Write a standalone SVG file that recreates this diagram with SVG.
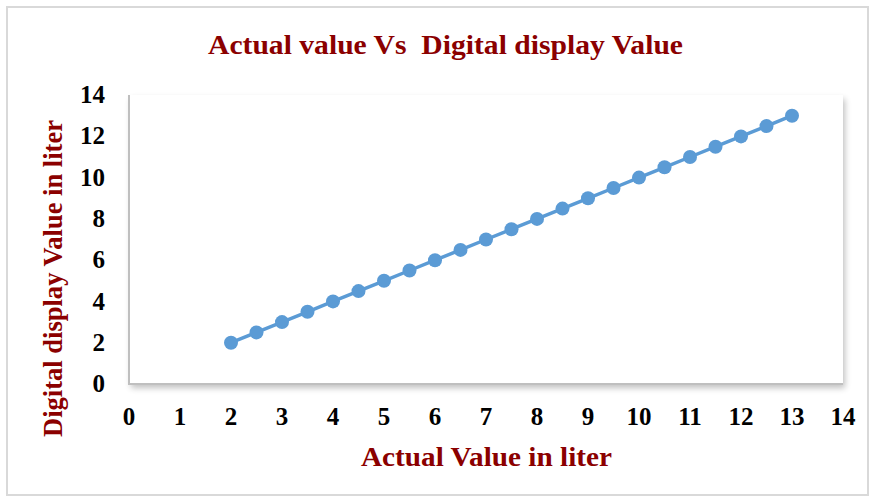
<svg xmlns="http://www.w3.org/2000/svg" width="875" height="502" viewBox="0 0 875 502">
<defs>
<filter id="sh" x="-5%" y="-5%" width="115%" height="120%">
<feGaussianBlur in="SourceAlpha" stdDeviation="3"/>
<feOffset dx="2" dy="4"/>
<feComponentTransfer><feFuncA type="linear" slope="0.25"/></feComponentTransfer>
<feMerge><feMergeNode/><feMergeNode in="SourceGraphic"/></feMerge>
</filter>
</defs>
<style>
.t{font-family:"Liberation Serif","Times New Roman",serif;font-weight:bold;fill:#8b0000}
.tk{font-family:"Liberation Serif","Times New Roman",serif;font-weight:bold;font-size:25px;fill:#000}
.ax{stroke:#bfbfbf;stroke-width:2;fill:none}
.pt{fill:#5b9bd5}
</style>
<rect x="0" y="0" width="875" height="502" fill="#fff"/>
<rect x="7" y="7" width="861" height="488" fill="#fff" stroke="#d9d9d9" stroke-width="2"/>
<text class="t" x="208" y="54" font-size="28" textLength="475" lengthAdjust="spacingAndGlyphs" xml:space="preserve">Actual value Vs  Digital display Value</text>
<g id="plot">
<rect x="129" y="95" width="714" height="289" fill="#fff" filter="url(#sh)"/>
<line class="ax" x1="129" y1="95" x2="129" y2="385"/>
<line class="ax" x1="128" y1="384" x2="843" y2="384"/>
</g>
<g id="yticks" class="tk" text-anchor="end">
<text x="105" y="392">0</text>
<text x="105" y="351">2</text>
<text x="105" y="310">4</text>
<text x="105" y="268">6</text>
<text x="105" y="227">8</text>
<text x="105" y="186">10</text>
<text x="105" y="144">12</text>
<text x="105" y="103">14</text>
</g>
<g id="xticks" class="tk" text-anchor="middle">
<text x="129" y="425">0</text>
<text x="180" y="425">1</text>
<text x="231" y="425">2</text>
<text x="282" y="425">3</text>
<text x="333" y="425">4</text>
<text x="384" y="425">5</text>
<text x="435" y="425">6</text>
<text x="486" y="425">7</text>
<text x="537" y="425">8</text>
<text x="588" y="425">9</text>
<text x="639" y="425">10</text>
<text x="690" y="425">11</text>
<text x="741" y="425">12</text>
<text x="792" y="425">13</text>
<text x="843" y="425">14</text>
</g>
<text class="t" x="361" y="466" font-size="28" textLength="251" lengthAdjust="spacingAndGlyphs">Actual Value in liter</text>
<text class="t" transform="translate(62,437) rotate(-90)" font-size="28" textLength="317" lengthAdjust="spacingAndGlyphs">Digital display Value in liter</text>
<g id="series">
<polyline points="231,342.7 256.5,332.4 282,322.1 307.5,311.8 333,301.4 358.5,291.1 384,280.8 409.5,270.5 435,260.2 460.5,249.9 486,239.5 511.5,229.2 537,218.9 562.5,208.6 588,198.3 613.5,188 639,177.6 664.5,167.3 690,157 715.5,146.7 741,136.4 766.5,126.1 792,115.7" fill="none" stroke="#5b9bd5" stroke-width="3.5"/>
<circle class="pt" cx="231" cy="342.7" r="7"/>
<circle class="pt" cx="256.5" cy="332.4" r="7"/>
<circle class="pt" cx="282" cy="322.1" r="7"/>
<circle class="pt" cx="307.5" cy="311.8" r="7"/>
<circle class="pt" cx="333" cy="301.4" r="7"/>
<circle class="pt" cx="358.5" cy="291.1" r="7"/>
<circle class="pt" cx="384" cy="280.8" r="7"/>
<circle class="pt" cx="409.5" cy="270.5" r="7"/>
<circle class="pt" cx="435" cy="260.2" r="7"/>
<circle class="pt" cx="460.5" cy="249.9" r="7"/>
<circle class="pt" cx="486" cy="239.5" r="7"/>
<circle class="pt" cx="511.5" cy="229.2" r="7"/>
<circle class="pt" cx="537" cy="218.9" r="7"/>
<circle class="pt" cx="562.5" cy="208.6" r="7"/>
<circle class="pt" cx="588" cy="198.3" r="7"/>
<circle class="pt" cx="613.5" cy="188" r="7"/>
<circle class="pt" cx="639" cy="177.6" r="7"/>
<circle class="pt" cx="664.5" cy="167.3" r="7"/>
<circle class="pt" cx="690" cy="157" r="7"/>
<circle class="pt" cx="715.5" cy="146.7" r="7"/>
<circle class="pt" cx="741" cy="136.4" r="7"/>
<circle class="pt" cx="766.5" cy="126.1" r="7"/>
<circle class="pt" cx="792" cy="115.7" r="7"/>
</g>
</svg>
